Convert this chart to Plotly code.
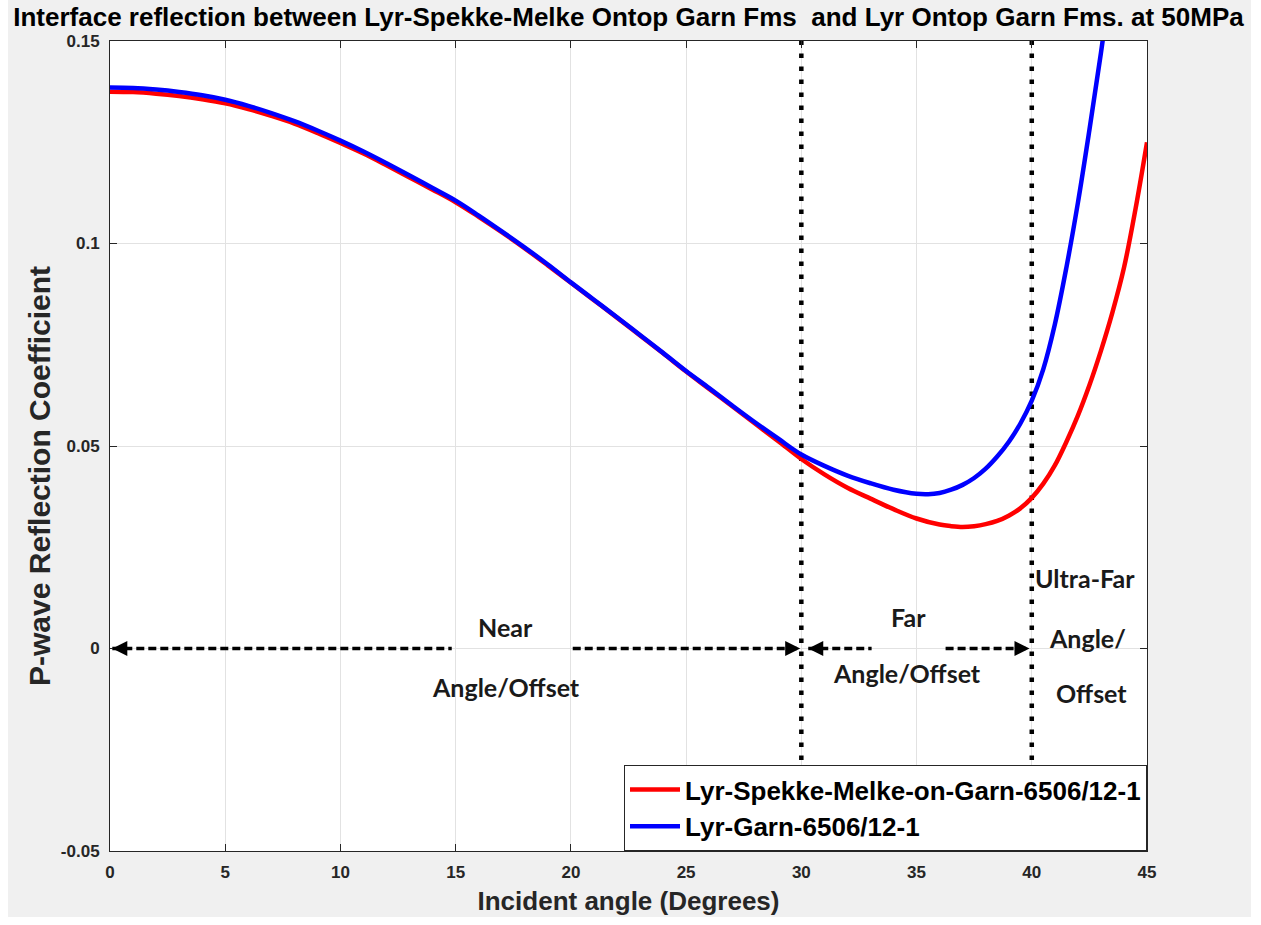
import plotly.graph_objects as go

# ---------------- data ----------------
angles_red = [0, 1, 2, 3, 4, 5, 6, 7, 8, 9, 10, 11, 12, 13, 14, 15, 16, 17, 18, 19, 20,
              21, 22, 23, 24, 25, 26, 27, 28, 29, 30, 31, 32, 33, 34, 35, 36, 36.5, 37,
              37.5, 38, 38.5, 39, 39.5, 40, 40.5, 41, 41.5, 42, 42.5, 43, 43.5, 44, 44.5, 45]
rc_red = [0.1375, 0.1374, 0.1370, 0.1364, 0.1356, 0.1346, 0.1332, 0.1315, 0.1296, 0.1273,
          0.1248, 0.1222, 0.1193, 0.1163, 0.1133, 0.1102, 0.1066, 0.1028, 0.0988, 0.0946,
          0.0903, 0.0860, 0.0817, 0.0773, 0.0729, 0.0684, 0.0641, 0.0598, 0.0555, 0.0512,
          0.0468, 0.0430, 0.0397, 0.0370, 0.0344, 0.0321, 0.0306, 0.0302, 0.0300,
          0.0302, 0.0307, 0.0315, 0.0328, 0.0346, 0.0372, 0.0407, 0.0452, 0.0510, 0.0575,
          0.0650, 0.0735, 0.0830, 0.0940, 0.1085, 0.1250]

angles_blue = [0, 1, 2, 3, 4, 5, 6, 7, 8, 9, 10, 11, 12, 13, 14, 15, 16, 17, 18, 19, 20,
               21, 22, 23, 24, 25, 26, 27, 28, 29, 30, 31, 32, 33, 34, 35, 35.5, 36, 36.5,
               37, 37.5, 38, 38.5, 39, 39.5, 40, 40.5, 41, 41.5, 42, 42.5, 43, 43.5]
rc_blue = [0.1385, 0.1384, 0.1380, 0.1374, 0.1366, 0.1355, 0.1340, 0.1322, 0.1302, 0.1279,
           0.1254, 0.1227, 0.1198, 0.1168, 0.1137, 0.1106, 0.1069, 0.1030, 0.0990, 0.0948,
           0.0904, 0.0861, 0.0818, 0.0774, 0.0730, 0.0685, 0.0643, 0.0600, 0.0558, 0.0518,
           0.0479, 0.0451, 0.0427, 0.0408, 0.0392, 0.0382, 0.0381, 0.0384, 0.0392,
           0.0404, 0.0421, 0.0444, 0.0474, 0.0510, 0.0555, 0.0612, 0.0690, 0.0800, 0.0940,
           0.1100, 0.1280, 0.1470, 0.1680]

series_names = ["Lyr-Spekke-Melke-on-Garn-6506/12-1", "Lyr-Garn-6506/12-1"]
series_colors = ["#ff0000", "#0000ff"]

# zone boundaries (vertical dotted lines)
boundary_angles = [30, 40]

# dashed double-arrow segments at y = 0
seg_start = [0.1, 20.08, 30.3, 36.26]
seg_end = [14.83, 29.95, 33.05, 39.9]
arrow_tips = [0.1, 29.95, 30.3, 39.9]
arrow_dirs = ["left", "right", "left", "right"]

# zone labels
label_text = ["Near", "Angle/Offset", "Far", "Angle/Offset", "Ultra-Far", "Angle/", "Offset"]
label_x = [17.18, 17.18, 34.63, 34.59, 42.31, 42.40, 42.61]
label_y = [0.0054, -0.0094, 0.0077, -0.0060, 0.0173, 0.0027, -0.0109]

x_ticks = [0, 5, 10, 15, 20, 25, 30, 35, 40, 45]
y_ticks = [-0.05, 0, 0.05, 0.1, 0.15]
y_ticktext = ["-0.05", "0", "0.05", "0.1", "0.15"]

title_text = "Interface reflection between Lyr-Spekke-Melke Ontop Garn Fms  and Lyr Ontop Garn Fms. at 50MPa"
x_title = "Incident angle (Degrees)"
y_title = "P-wave Reflection Coefficient"

# ---------------- figure ----------------
AXIS_FONT = "Liberation Sans, Arial, sans-serif"
fig = go.Figure()

# vertical dotted zone boundaries
for xb in boundary_angles:
    fig.add_trace(go.Scatter(x=[xb, xb], y=[-0.05, 0.15], mode="lines",
                             line=dict(color="black", width=4.5, dash="4.5px,8.5px"),
                             showlegend=False, hoverinfo="skip"))

# dashed horizontal arrow shafts
for x0, x1 in zip(seg_start, seg_end):
    fig.add_trace(go.Scatter(x=[x0, x1], y=[0, 0], mode="lines",
                             line=dict(color="black", width=3.5, dash="8px,4px"),
                             showlegend=False, hoverinfo="skip"))

# curves
fig.add_trace(go.Scatter(x=angles_red, y=rc_red, mode="lines", name=series_names[0],
                         line=dict(color=series_colors[0], width=4.5, shape="spline",
                                   smoothing=1.0)))
fig.add_trace(go.Scatter(x=angles_blue, y=rc_blue, mode="lines", name=series_names[1],
                         line=dict(color=series_colors[1], width=4.5, shape="spline",
                                   smoothing=1.0)))

# arrowheads
for xt, d in zip(arrow_tips, arrow_dirs):
    fig.add_annotation(x=xt, y=0, xref="x", yref="y", text="", showarrow=True,
                       arrowhead=2, arrowsize=1.0, arrowwidth=3, arrowcolor="black",
                       ax=(-10 if d == "right" else 10), ay=0)

# zone labels
for t, xl, yl in zip(label_text, label_x, label_y):
    fig.add_annotation(x=xl, y=yl, xref="x", yref="y", text=t, showarrow=False,
                       font=dict(family="Lato, Carlito, sans-serif", size=25,
                                 color="#1a1a1a", weight="bold"),
                       xanchor="center", yanchor="middle")


def px2paper_x(px):
    return (px - 110) / 1037.0


def px2paper_y(py):
    return (851 - py) / 810.0


# y-axis title (placed like the reference)
fig.add_annotation(x=px2paper_x(40), y=px2paper_y(476), xref="paper", yref="paper",
                   text=y_title, showarrow=False, textangle=-90,
                   xanchor="center", yanchor="middle",
                   font=dict(family=AXIS_FONT, size=30, color="#262626", weight="bold"))

# white strips at the picture edges (outside the gray figure window)
for (x0, x1, y0, y1) in [(0, 8, 0, 925), (1251, 1261, 0, 925), (0, 1261, 917, 925)]:
    fig.add_shape(type="rect", xref="paper", yref="paper",
                  x0=px2paper_x(x0), x1=px2paper_x(x1),
                  y0=px2paper_y(y1), y1=px2paper_y(y0),
                  fillcolor="white", line=dict(width=0), layer="above")

axis_common = dict(showline=True, linecolor="#262626", linewidth=1, mirror="ticks",
                   ticks="inside", ticklen=7, tickcolor="#262626",
                   showgrid=True, gridcolor="#e2e2e2", gridwidth=1, zeroline=False,
                   tickfont=dict(family=AXIS_FONT, size=17, color="#262626", weight="bold"))

fig.update_layout(
    width=1261, height=925,
    margin=dict(l=110, r=114, t=41, b=74, autoexpand=False),
    paper_bgcolor="#f0f0f0", plot_bgcolor="white",
    title=dict(text=title_text,
               font=dict(family=AXIS_FONT, size=26, color="black", weight="bold"),
               x=0.5, xref="paper", xanchor="center", y=1 - 17 / 925, yref="container",
               yanchor="middle"),
    xaxis=dict(range=[0, 45], tickvals=x_ticks, ticklabelstandoff=6,
               title=dict(text=x_title, standoff=10,
                          font=dict(family=AXIS_FONT, size=26, color="#262626", weight="bold")),
               **axis_common),
    yaxis=dict(range=[-0.05, 0.15], tickvals=y_ticks, ticktext=y_ticktext, ticklabelstandoff=6,
               **axis_common),
    legend=dict(x=1, y=0, xanchor="right", yanchor="bottom", bgcolor="white",
                bordercolor="#262626", borderwidth=1,
                font=dict(family=AXIS_FONT, size=26, color="black", weight="bold"),
                tracegroupgap=0, itemwidth=50),
    showlegend=True,
)

fig.write_html("out.html")
